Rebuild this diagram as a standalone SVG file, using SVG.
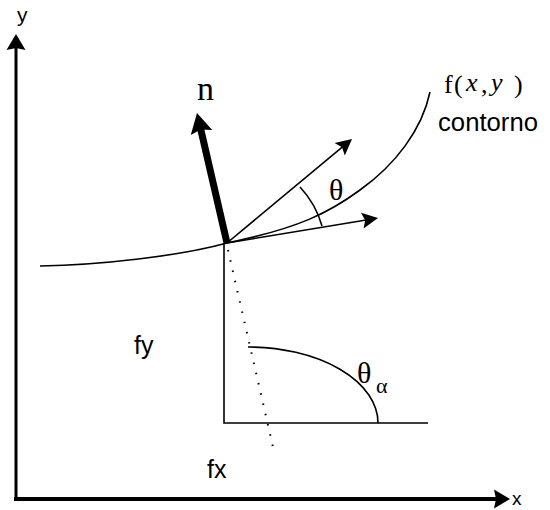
<svg xmlns="http://www.w3.org/2000/svg" width="550" height="510" viewBox="0 0 550 510">
  <style>
    .ln { fill: none; stroke: #000; stroke-width: 1.6; }
    .sans { font-family: "Liberation Sans", Arial, sans-serif; fill: #000; }
    .serif { font-family: "Liberation Serif", "Times New Roman", serif; fill: #000; }
  </style>
  <defs>
    <marker id="ax" viewBox="-5 -10 18 20" refX="0" refY="0" markerWidth="18" markerHeight="20" markerUnits="userSpaceOnUse" orient="auto">
      <path d="M-4,-9.5 L12,0 L-4,9.5 L-2,0 z" fill="#000"/>
    </marker>
    <marker id="sm" viewBox="-5 -9 18 18" refX="0" refY="0" markerWidth="18" markerHeight="18" markerUnits="userSpaceOnUse" orient="auto">
      <path d="M-4,-8 L12,0 L-4,8 L-1,0 z" fill="#000"/>
    </marker>
    <marker id="nn" viewBox="-5 -12 22 24" refX="0" refY="0" markerWidth="22" markerHeight="24" markerUnits="userSpaceOnUse" orient="auto">
      <path d="M-4,-11 L16,0 L-4,11 L-1,0 z" fill="#000"/>
    </marker>
  </defs>
  <rect width="550" height="510" fill="#fff"/>

  <g id="axes">
    <path d="M16,501 L16,46" stroke="#000" stroke-width="3" fill="none" marker-end="url(#ax)"/>
    <path d="M14,499 L498,499" stroke="#000" stroke-width="4" fill="none" marker-end="url(#ax)"/>
    <text class="sans" x="17" y="22" font-size="21">y</text>
    <text class="sans" x="512" y="505" font-size="19">x</text>
  </g>

  <g id="contour">
    <path class="ln" d="M40,266 C100,265 180,256 227,243 C300,228 330,212 360,190 C395,165 422,130 430,92"/>
    <text class="serif" font-size="26"><tspan x="444" y="93">f</tspan><tspan x="454" y="93">(</tspan><tspan x="466" y="91" font-style="italic">x</tspan><tspan x="481" y="93">,</tspan><tspan x="491" y="91" font-style="italic">y</tspan><tspan x="514" y="93">)</tspan></text>
    <text class="sans" x="438" y="131" font-size="25" textLength="100" lengthAdjust="spacingAndGlyphs">contorno</text>
  </g>

  <g id="normal">
    <path d="M227,243 L200.6,128.6" stroke="#000" stroke-width="7" fill="none" marker-end="url(#nn)"/>
    <text class="serif" x="197" y="100" font-size="34">n</text>
  </g>

  <g id="connectors">
    <path class="ln" d="M227,243 L342.8,146.7" marker-end="url(#sm)"/>
    <path class="ln" d="M227,243 L366.2,220" marker-end="url(#sm)"/>
    <path class="ln" d="M300,187 A95,95 0 0 1 322,226"/>
    <path class="ln" d="M224,243 L224,423 L428,423" stroke-width="2"/>
    <path fill="none" stroke="#000" stroke-width="2" stroke-dasharray="1.5 9" d="M228,250 L273,447"/>
    <path class="ln" d="M248,347 A130,76 0 0 1 378,423"/>
  </g>

  <g id="labels">
    <text class="serif" x="329" y="200" font-size="30">θ</text>
    <text class="serif" x="357" y="383" font-size="30">θ</text>
    <text class="serif" x="376" y="393" font-size="22">α</text>
    <text class="sans" x="134" y="354" font-size="25">fy</text>
    <text class="sans" x="207" y="478" font-size="25">fx</text>
  </g>
</svg>
